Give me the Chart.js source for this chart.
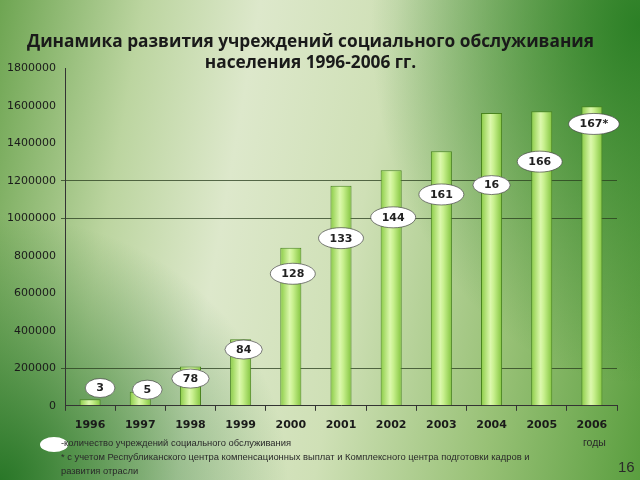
<!DOCTYPE html>
<html><head><meta charset="utf-8">
<script src="https://cdn.jsdelivr.net/npm/chart.js@4"></script>
<style>
html,body{margin:0;padding:0;}
body{width:640px;height:480px;overflow:hidden;position:relative;
background:
 radial-gradient(ellipse 45% 55% at 0% 100%, rgba(35,115,35,0.95) 0%, rgba(35,115,35,0) 100%),
 radial-gradient(ellipse 42% 75% at 100% 5%, rgba(40,125,35,0.95) 0%, rgba(40,125,35,0) 100%),
 linear-gradient(100deg, #6ea552 0%, #bcd5a0 20%, #dde8cb 36%, #cfe0b6 55%, #98c176 78%, #5a9e3f 100%);
font-family:"DejaVu Sans",sans-serif;}
#wrap{position:absolute;left:0;top:0;width:640px;height:480px;}
.foot{position:absolute;font-family:"Liberation Sans",Arial,sans-serif;font-size:9.4px;color:#2a2a2a;white-space:nowrap;}
#ell{position:absolute;left:40px;top:437px;width:28px;height:15px;border-radius:50%;background:#fff;}
</style></head>
<body>
<div id="wrap"><canvas id="c" width="640" height="480"></canvas></div>
<div id="ell"></div>
<div class="foot" style="left:61px;top:437px;">-количество учреждений социального обслуживания</div>
<div class="foot" style="left:61px;top:451px;">* с учетом Республиканского центра компенсационных выплат и Комплексного центра подготовки кадров и</div>
<div class="foot" style="left:61px;top:465px;">развития отрасли</div>
<div class="foot" style="left:583px;top:436px;font-size:10.5px;">годы</div>
<div class="foot" style="left:618px;top:458px;font-size:15px;">16</div>
<script>
const years = ['1996','1997','1998','1999','2000','2001','2002','2003','2004','2005','2006'];
const values = [35000, 75000, 210000, 355000, 843000, 1173000, 1256000, 1358000, 1562000, 1571000, 1598000];
const institutionLabels = ['3','5','78','84','128','133','144','161','16','166','167*'];
const labelLevels = [95000, 86000, 145000, 300000, 704000, 894000, 1005000, 1127000, 1177000, 1302000, 1503000];
const yTicks = [0,200000,400000,600000,800000,1000000,1200000,1400000,1600000,1800000];
const titleLines = ['Динамика развития учреждений социального обслуживания','населения 1996-2006 гг.'];

const ellipsePlugin = {
  id:'ellipses',
  afterDatasetsDraw(chart, args, opts){
    const ctx = chart.ctx, xs = chart.scales.x, ys = chart.scales.y;
    ctx.save();
    ctx.font = 'bold 11px "DejaVu Sans", sans-serif';
    ctx.textAlign='center'; ctx.textBaseline='middle';
    institutionLabels.forEach((t,i)=>{
      const x = xs.getPixelForValue(i) + (opts.shift[i]||0);
      const y = ys.getPixelForValue(labelLevels[i]);
      const w = Math.max(ctx.measureText(t).width + 22, 28);
      const h = t.length>2 ? 21 : 19;
      ctx.beginPath();
      ctx.ellipse(x, y, w/2, h/2, 0, 0, Math.PI*2);
      ctx.fillStyle='#ffffff'; ctx.fill();
      ctx.strokeStyle='rgba(70,70,70,0.7)'; ctx.lineWidth=1; ctx.stroke();
      ctx.fillStyle='#222'; ctx.fillText(t, x, y+0.5);
    });
    ctx.restore();
  }
};

function barGradient(context){
  const chart = context.chart;
  const xs = chart.scales.x;
  if(!xs || context.dataIndex===undefined) return '#b5e57a';
  const x = xs.getPixelForValue(context.dataIndex);
  if(!isFinite(x)) return '#b5e57a';
  const g = chart.ctx.createLinearGradient(x-11,0,x+11,0);
  g.addColorStop(0,'#86c940');
  g.addColorStop(0.45,'#dcf8ad');
  g.addColorStop(0.6,'#c8f08e');
  g.addColorStop(1,'#7fc23a');
  return g;
}

new Chart(document.getElementById('c'),{
  type:'bar',
  data:{labels:years,datasets:[{data:values,backgroundColor:barGradient,borderColor:'#4a8420',borderWidth:1,
    barPercentage:0.42,categoryPercentage:1}]},
  plugins:[ellipsePlugin],
  options:{
    responsive:false,animation:false,
    layout:{padding:{left:4,right:23,top:0,bottom:40}},
    plugins:{
      legend:{display:false},tooltip:{enabled:false},
      ellipses:{shift:[10,7,0,3,2,0,2,0,0,-2,2]},
      title:{display:true,text:titleLines,color:'#1a1a1a',
        font:{family:'"Open Sans", sans-serif',size:17.3,weight:'bold',lineHeight:1.25},
        padding:{top:31,bottom:-6}}
    },
    scales:{
      x:{grid:{display:true,drawOnChartArea:false,drawTicks:true,tickLength:5,color:'#333',offset:true},
        border:{display:true,color:'#333',width:1},
        ticks:{color:'#1a1a1a',font:{family:'"DejaVu Sans", sans-serif',size:11,weight:'bold'},padding:8,maxRotation:0}},
      y:{min:0,max:1800000,
        afterBuildTicks(s){s.ticks = yTicks.map(v=>({value:v}));},
        afterFit(s){s.width=61;},
        grid:{color:(c)=>([200000,1000000,1200000].includes(c.tick&&c.tick.value)?'rgba(40,60,30,0.75)':'rgba(0,0,0,0)'),
          drawTicks:true,tickLength:4,lineWidth:1},
        border:{display:true,color:'#333',width:1},
        ticks:{color:'#1a1a1a',font:{family:'"DejaVu Sans", sans-serif',size:11},padding:5,callback:(v)=>String(v)}}
    }
  }
});
</script>
</body></html>
